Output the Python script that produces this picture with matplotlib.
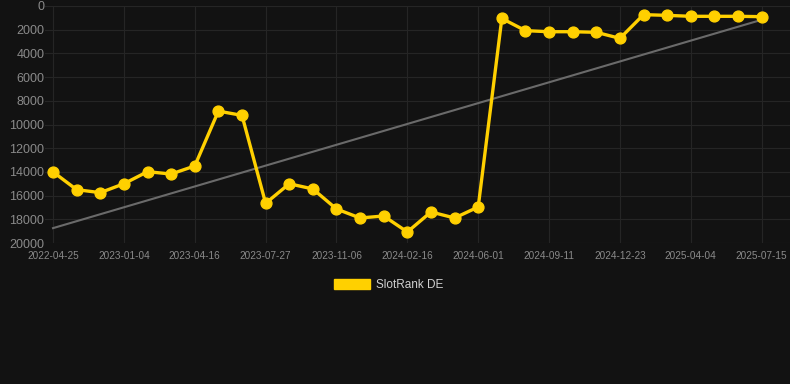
import numpy as np
import matplotlib
matplotlib.use("Agg")
import matplotlib.pyplot as plt
from matplotlib.patches import Patch

plt.rcParams['font.family'] = ['Liberation Sans', 'DejaVu Sans']

tick_labels = ["2022-04-25", "2023-01-04", "2023-04-16", "2023-07-27", "2023-11-06",
               "2024-02-16", "2024-06-01", "2024-09-11", "2024-12-23", "2025-04-04",
               "2025-07-15"]
ranks = [14000, 15500, 15750, 15000, 13980, 14180, 13500, 8870, 9230, 16650,
         15000, 15440, 17130, 17890, 17720, 19070, 17380, 17890, 16960, 1050,
         2080, 2170, 2170, 2220, 2730, 730, 790, 870, 870, 870, 900]
series_name = "SlotRank DE"

bg = "#121212"
fig = plt.figure(figsize=(7.9, 3.84), dpi=100, facecolor=bg)
ax = fig.add_axes([45 / 790, 141 / 384, 745 / 790, 237 / 384], facecolor=bg)

x = np.arange(len(ranks))
coef = np.polyfit(x, ranks, 1)
ax.plot([x[0], x[-1]], np.polyval(coef, [x[0], x[-1]]), color="#6a6a6a", lw=1.5, zorder=2)
ax.plot(x, ranks, color="#FFD000", lw=2.4, marker="o", markersize=7.8, zorder=3)

ax.set_ylim(20000, 0)
ax.set_xlim(-0.34, 31.2)
ax.set_yticks(np.arange(0, 20001, 2000))
ax.set_xticks(x[::3])
ax.set_xticklabels(tick_labels)

for s in ax.spines.values():
    s.set_visible(False)
ax.grid(True, color="#252525", lw=0.8)
ax.set_axisbelow(True)
ax.tick_params(axis="y", length=0, labelsize=9, labelcolor="#8a8a8a", pad=0.5)
ax.tick_params(axis="x", length=0, labelsize=7.2, labelcolor="#8a8a8a", pad=6)

leg = fig.legend(handles=[Patch(facecolor="#FFD000", edgecolor="#FFD000", label=series_name)],
                 loc="center", bbox_to_anchor=(0.492, 1 - 285 / 384), frameon=False,
                 handlelength=3.0, handleheight=0.9, handletextpad=0.5,
                 fontsize=8.5)
for t in leg.get_texts():
    t.set_color("#d0d0d0")

fig.savefig("out.png", dpi=100, facecolor=bg)
